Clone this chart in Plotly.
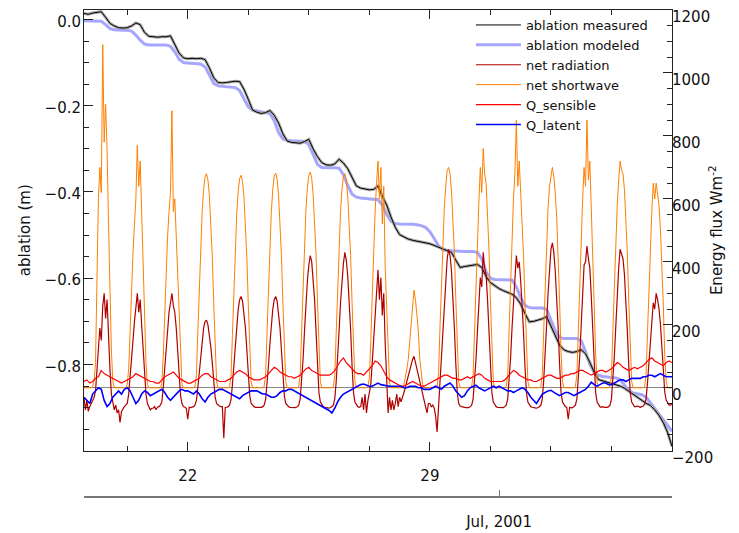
import pandas as pd
import plotly.graph_objects as go

# ---------------- time bases ----------------
t_hourly = pd.date_range('2001-06-19 00:00', periods=409, freq='h')
t_2h = pd.date_range('2001-06-19 00:00', periods=205, freq='2h')
t_3h = pd.date_range('2001-06-19 00:00', periods=137, freq='3h')

# ---------------- ablation (m), 3-hourly ----------------
ablation_measured = [
    0.014, 0.012, 0.015, 0.017, 0.018, 0.005, -0.009, -0.015,
    -0.019, -0.020, -0.019, -0.015, -0.008, -0.012, -0.030, -0.039,
    -0.040, -0.041, -0.040, -0.040, -0.038, -0.060, -0.078, -0.089,
    -0.091, -0.090, -0.091, -0.090, -0.093, -0.112, -0.135, -0.146,
    -0.147, -0.146, -0.145, -0.143, -0.144, -0.162, -0.185, -0.210,
    -0.215, -0.218, -0.216, -0.211, -0.222, -0.240, -0.265, -0.282,
    -0.285, -0.286, -0.287, -0.283, -0.278, -0.300, -0.318, -0.332,
    -0.337, -0.338, -0.335, -0.324, -0.333, -0.346, -0.368, -0.386,
    -0.391, -0.393, -0.395, -0.394, -0.386, -0.410, -0.430, -0.458,
    -0.482, -0.499, -0.505, -0.509, -0.512, -0.514, -0.516, -0.518,
    -0.520, -0.524, -0.528, -0.532, -0.536, -0.540, -0.558, -0.575,
    -0.573, -0.571, -0.570, -0.568, -0.575, -0.596, -0.610, -0.618,
    -0.624, -0.629, -0.633, -0.637, -0.645, -0.660, -0.682, -0.701,
    -0.700, -0.697, -0.694, -0.689, -0.712, -0.735, -0.755, -0.766,
    -0.770, -0.772, -0.770, -0.766, -0.775, -0.795, -0.818, -0.835,
    -0.838, -0.842, -0.845, -0.848, -0.850, -0.855, -0.862, -0.870,
    -0.878, -0.885, -0.890, -0.895, -0.905, -0.918, -0.935, -0.958,
    -0.990,
]

ablation_modeled = [
    -0.003, -0.003, -0.003, -0.003, -0.004, -0.012, -0.021, -0.024,
    -0.025, -0.025, -0.025, -0.027, -0.036, -0.048, -0.057, -0.059,
    -0.059, -0.059, -0.059, -0.059, -0.062, -0.075, -0.092, -0.100,
    -0.101, -0.102, -0.102, -0.103, -0.110, -0.128, -0.148, -0.154,
    -0.155, -0.156, -0.157, -0.158, -0.165, -0.185, -0.203, -0.210,
    -0.212, -0.214, -0.216, -0.218, -0.235, -0.262, -0.277, -0.280,
    -0.281, -0.282, -0.283, -0.283, -0.290, -0.315, -0.336, -0.343,
    -0.344, -0.344, -0.344, -0.345, -0.360, -0.385, -0.405, -0.412,
    -0.414, -0.415, -0.416, -0.416, -0.418, -0.430, -0.452, -0.468,
    -0.473, -0.474, -0.474, -0.475, -0.475, -0.476, -0.478, -0.482,
    -0.492, -0.508, -0.525, -0.534, -0.536, -0.537, -0.537, -0.538,
    -0.538, -0.538, -0.538, -0.540, -0.555, -0.585, -0.600, -0.603,
    -0.603, -0.603, -0.603, -0.604, -0.620, -0.645, -0.663, -0.668,
    -0.669, -0.669, -0.669, -0.672, -0.695, -0.722, -0.737, -0.740,
    -0.740, -0.740, -0.740, -0.745, -0.770, -0.800, -0.818, -0.825,
    -0.828, -0.829, -0.830, -0.831, -0.835, -0.848, -0.860, -0.866,
    -0.868, -0.870, -0.876, -0.888, -0.902, -0.915, -0.928, -0.942,
    -0.955,
]

# ---------------- energy fluxes (W m-2) ----------------
# hourly, one row per day (hours 0..23), plus the final midnight value
net_shortwave = [
    0, 0, 0, 0, 0, 0, 5, 20, 80, 350, 600, 700, 620, 1090, 780, 900, 760, 520, 300, 120, 20, 0, 0, 0,
    0, 0, 0, 0, 0, 0, 10, 60, 180, 320, 430, 520, 600, 770, 640, 720, 560, 400, 230, 80, 10, 0, 0, 0,
    0, 0, 0, 0, 0, 0, 15, 100, 230, 380, 480, 560, 620, 880, 560, 600, 480, 360, 210, 70, 10, 0, 0, 0,
    0, 0, 0, 0, 0, 5, 40, 180, 330, 460, 560, 630, 670, 680, 660, 610, 530, 420, 270, 110, 20, 0, 0, 0,
    0, 0, 0, 0, 0, 5, 35, 170, 320, 450, 555, 625, 665, 675, 655, 605, 525, 415, 265, 105, 18, 0, 0, 0,
    0, 0, 0, 0, 0, 5, 40, 175, 330, 460, 560, 630, 672, 682, 662, 612, 532, 420, 270, 110, 20, 0, 0, 0,
    0, 0, 0, 0, 0, 5, 40, 180, 335, 465, 565, 635, 675, 685, 665, 615, 535, 425, 275, 110, 20, 0, 0, 0,
    0, 0, 0, 0, 0, 5, 38, 175, 330, 460, 560, 630, 670, 680, 660, 610, 530, 420, 270, 108, 20, 0, 0, 0,
    0, 0, 0, 0, 0, 5, 30, 150, 300, 420, 560, 650, 720, 600, 700, 520, 640, 380, 250, 90, 15, 0, 0, 0,
    0, 0, 0, 0, 0, 0, 10, 30, 60, 90, 150, 200, 250, 310, 280, 230, 180, 90, 40, 10, 0, 0, 0, 0,
    0, 0, 0, 0, 0, 5, 45, 190, 340, 470, 570, 640, 690, 700, 680, 625, 540, 430, 280, 115, 20, 0, 0, 0,
    0, 0, 0, 0, 0, 5, 40, 180, 330, 470, 590, 700, 620, 760, 680, 650, 560, 440, 280, 110, 20, 0, 0, 0,
    0, 0, 0, 0, 0, 5, 40, 190, 350, 480, 600, 680, 850, 640, 720, 620, 540, 420, 270, 110, 20, 0, 0, 0,
    0, 0, 0, 0, 0, 5, 42, 185, 335, 465, 570, 640, 680, 700, 670, 620, 540, 430, 275, 112, 20, 0, 0, 0,
    0, 0, 0, 0, 0, 5, 40, 180, 340, 480, 600, 700, 640, 850, 660, 720, 560, 430, 280, 110, 20, 0, 0, 0,
    0, 0, 0, 0, 0, 5, 40, 185, 340, 470, 580, 660, 720, 690, 680, 630, 540, 430, 275, 110, 20, 0, 0, 0,
    0, 0, 0, 0, 0, 5, 40, 175, 320, 450, 560, 650, 600, 650, 620, 580, 500, 400, 260, 100, 20, 0, 0, 0,
    0,
]

net_radiation = [
    -30, -70, -40, -75, -60, -50, -45, -30, -10, 60, 120, 190, 150, 260, 300, 220, 280, 140, 60, -20, -50, -70, -55, -80,
    -70, -110, -75, -65, -60, -55, -50, -20, 30, 90, 150, 210, 250, 300, 240, 280, 200, 130, 40, -20, -50, -60, -70, -65,
    -65, -60, -70, -62, -60, -55, -45, 0, 60, 130, 190, 240, 270, 300, 260, 240, 190, 110, 30, -25, -50, -60, -62, -65,
    -100, -62, -63, -62, -60, -55, -40, 0, 50, 100, 150, 190, 210, 215, 200, 170, 130, 80, 20, -30, -50, -55, -58, -60,
    -60, -160, -63, -62, -60, -55, -38, 10, 70, 140, 200, 250, 280, 290, 275, 240, 190, 120, 40, -25, -50, -57, -60, -62,
    -62, -63, -64, -62, -60, -55, -38, 10, 70, 140, 200, 250, 280, 290, 275, 240, 190, 120, 40, -25, -50, -57, -60, -62,
    -62, -63, -64, -63, -60, -55, -35, 20, 90, 180, 270, 340, 390, 420, 400, 350, 280, 180, 70, -15, -45, -55, -60, -62,
    -62, -64, -65, -63, -60, -55, -35, 20, 90, 180, 270, 340, 395, 430, 405, 355, 285, 185, 70, -15, -45, -55, -60, -62,
    -60, -30, -70, -20, -80, -40, -20, 10, 80, 160, 250, 330, 375, 280, 350, 230, 300, 140, 40, -80, -30, -70, -40, -70,
    -50, -20, -60, -30, -45, -30, -20, 0, 20, 40, 60, 70, 90, 100, 80, 60, 40, 20, 0, -20, -40, -60, -80, -50,
    -50, -60, -55, -65, -90, -140, -60, 10, 100, 190, 280, 350, 410, 440, 420, 370, 290, 190, 75, -15, -50, -58, -60, -62,
    -62, -63, -64, -63, -60, -55, -35, 20, 90, 180, 270, 350, 320, 430, 380, 360, 280, 180, 70, -15, -45, -55, -60, -62,
    -62, -63, -64, -63, -60, -55, -35, 20, 95, 190, 280, 360, 420, 380, 400, 340, 270, 175, 65, -15, -45, -55, -60, -62,
    -62, -64, -65, -63, -60, -55, -35, 25, 100, 200, 300, 380, 440, 460, 430, 370, 290, 190, 75, -15, -45, -55, -60, -62,
    -100, -62, -64, -63, -60, -55, -35, 20, 100, 200, 300, 390, 400, 450, 410, 380, 290, 185, 70, -15, -45, -55, -60, -62,
    -60, -62, -63, -62, -60, -55, -35, 20, 100, 195, 300, 380, 440, 420, 410, 360, 280, 180, 70, -15, -45, -55, -60, -60,
    -58, -60, -62, -60, -58, -52, -35, 15, 80, 150, 220, 270, 250, 300, 280, 250, 200, 130, 50, -15, -40, -50, -55, -55,
    -50,
]

# 2-hourly, one row per day (hours 0,2,..,22), plus the final midnight value
q_sensible = [
    20, 25, 15, 20, 30, 35, 55, 45, 40, 35, 30, 25,
    20, 15, 20, 25, 30, 35, 45, 40, 35, 30, 25, 20,
    20, 15, 15, 25, 35, 40, 45, 50, 40, 30, 25, 20,
    15, 15, 20, 25, 30, 40, 45, 45, 35, 30, 25, 20,
    20, 20, 25, 30, 40, 50, 55, 50, 45, 35, 30, 25,
    25, 25, 30, 35, 45, 55, 65, 60, 50, 45, 40, 35,
    35, 30, 35, 40, 50, 60, 65, 55, 50, 45, 40, 40,
    40, 40, 45, 55, 70, 85, 95, 80, 70, 60, 50, 45,
    45, 40, 50, 60, 70, 85, 80, 70, 50, 35, 25, 20,
    15, 10, 5, 5, 10, 15, 20, 15, 10, 5, 5, 10,
    15, 20, 25, 30, 35, 40, 40, 35, 30, 30, 25, 25,
    30, 35, 30, 35, 40, 45, 40, 30, 25, 20, 20, 20,
    20, 20, 25, 35, 45, 55, 50, 40, 35, 30, 25, 25,
    20, 20, 25, 30, 35, 40, 40, 35, 30, 30, 35, 40,
    40, 45, 45, 50, 55, 55, 50, 45, 40, 45, 50, 55,
    55, 50, 55, 60, 70, 80, 75, 65, 60, 55, 60, 65,
    60, 65, 70, 80, 90, 95, 85, 80, 75, 70, 80, 85,
    80,
]

q_latent = [
    -30, -40, -50, -20, -10, 0, -5, -40, -60, -50, -30, -20,
    -10, -20, -5, 0, -10, -30, -50, -40, -20, -10, -15, -25,
    -20, -15, -10, -5, -15, -30, -40, -30, -20, -10, -5, -10,
    -10, -15, -20, -10, -20, -35, -45, -30, -20, -15, -10, -5,
    -5, -10, -15, -20, -25, -30, -35, -25, -20, -15, -10, -10,
    -10, -15, -20, -20, -25, -30, -30, -25, -15, -10, -10, -5,
    -5, -10, -15, -20, -25, -30, -35, -40, -45, -50, -55, -60,
    -65, -72, -80, -65, -45, -30, -20, -15, -10, -5, 0, 5,
    10, 12, 8, 5, 5, 10, 15, 10, 8, 5, 5, 5,
    5, 5, 5, 0, 0, 5, 5, 5, 0, 0, -5, -5,
    -5, 0, 5, 0, -5, 5, 10, 15, 5, -10, -20, -30,
    -25, -10, 0, 5, 8, 0, -5, -10, -5, 0, 5, 0,
    5, 0, -5, -10, -10, -15, -10, -5, 0, -5, -15, -30,
    -40, -50, -35, -20, -15, -10, -8, -15, -20, -25, -20, -15,
    -15, -20, -25, -20, -15, -10, -5, 5, 18, 10, 5, 10,
    15, 15, 10, 10, 15, 20, 25, 25, 20, 25, 30, 30,
    30, 30, 35, 35, 40, 40, 35, 40, 45, 40, 35, 35,
    35,
]

# ---------------- axis ticks ----------------
x_range = ['2001-06-19 00:00', '2001-07-06 00:00']
x_tick_vals = ['2001-06-22', '2001-06-29']
x_tick_text = ['22', '29']
month_tick_vals = ['2001-07-01']
month_tick_text = ['Jul, 2001']
abl_tick_vals = [-0.8, -0.6, -0.4, -0.2, 0.0]
flux_tick_vals = [-200, 0, 200, 400, 600, 800, 1000, 1200]

FONT = 'DejaVu Sans'
AX = '#222222'

fig = go.Figure()

# energy fluxes (right axis)
fig.add_trace(go.Scatter(x=t_hourly, y=net_shortwave, mode='lines', name='net shortwave',
                         line=dict(color='#ff7f00', width=1), yaxis='y2', legendrank=4))
fig.add_trace(go.Scatter(x=t_hourly, y=net_radiation, mode='lines', name='net radiation',
                         line=dict(color='#b00000', width=1.2), yaxis='y2', legendrank=3))
fig.add_trace(go.Scatter(x=t_2h, y=q_sensible, mode='lines', name='Q_sensible',
                         line=dict(color='#ff0000', width=1.2), yaxis='y2', legendrank=5))
fig.add_trace(go.Scatter(x=t_2h, y=q_latent, mode='lines', name='Q_latent',
                         line=dict(color='#0000ff', width=1.6), yaxis='y2', legendrank=6))

# ablation (left axis)
fig.add_trace(go.Scatter(x=t_3h, y=ablation_modeled, mode='lines', name='ablation modeled',
                         line=dict(color='#a6a6ff', width=3), yaxis='y', legendrank=2))
fig.add_trace(go.Scatter(x=t_3h, y=ablation_measured, mode='lines', showlegend=False,
                         line=dict(color='#a8a8a8', width=3), yaxis='y', hoverinfo='skip'))
fig.add_trace(go.Scatter(x=t_3h, y=ablation_measured, mode='lines', name='ablation measured',
                         line=dict(color='#000000', width=1), yaxis='y', legendrank=1))

# carrier for the month axis
fig.add_trace(go.Scatter(x=[t_3h[0], t_3h[-1]], y=[None, None], mode='lines', showlegend=False,
                         xaxis='x2', yaxis='y', hoverinfo='skip'))

fig.update_layout(
    width=731, height=525,
    margin=dict(l=76, r=67, t=2, b=36),
    paper_bgcolor='white', plot_bgcolor='white',
    font=dict(family=FONT, size=15, color='#111111'),
    showlegend=True,
    legend=dict(x=0.658, y=1.0, xanchor='left', yanchor='top',
                bgcolor='rgba(0,0,0,0)', borderwidth=0,
                font=dict(size=13, family=FONT), itemwidth=45, tracegroupgap=0),
    xaxis=dict(type='date', range=x_range, anchor='y', domain=[0, 1], automargin=False,
               tickmode='array', tickvals=x_tick_vals, ticktext=x_tick_text,
               ticks='inside', ticklen=9, tickwidth=1, tickcolor=AX,
               showline=True, linecolor=AX, linewidth=1, mirror='ticks',
               showgrid=False, zeroline=False, ticklabelstandoff=11,
               minor=dict(tick0='2001-06-20 06:00', dtick=151200000, ticks='inside',
                          ticklen=5, tickcolor=AX, showgrid=False)),
    xaxis2=dict(type='date', range=x_range, overlaying='x', anchor='free', position=0,
                side='bottom', automargin=False, tickmode='array', tickvals=month_tick_vals,
                ticktext=month_tick_text, ticks='inside', ticklen=6, tickcolor='#777777',
                showline=True, linecolor='#777777', linewidth=1.5,
                showgrid=False, zeroline=False, ticklabelstandoff=11),
    yaxis=dict(range=[-1.0, 0.022], domain=[0.095, 1], anchor='x', automargin=False,
               tickmode='array', tickvals=abl_tick_vals, tickformat='.1f',
               ticks='inside', ticklen=9, tickcolor=AX,
               showline=True, linecolor=AX, linewidth=1,
               showgrid=False, zeroline=False, ticklabelshift=2, ticklabelstandoff=-1,
               ticklabeloverflow='allow',
               minor=dict(tick0=0, dtick=0.05, ticks='inside', ticklen=5,
                          tickcolor=AX, showgrid=False)),
    yaxis2=dict(range=[-200, 1200], overlaying='y', side='right', anchor='x', automargin=False,
                tickmode='array', tickvals=flux_tick_vals,
                ticks='inside', ticklen=9, tickcolor=AX,
                showline=True, linecolor=AX, linewidth=1,
                showgrid=False, zeroline=True, zerolinecolor='#888888', zerolinewidth=1,
                ticklabelshift=7, ticklabelstandoff=-4, ticklabeloverflow='allow',
                minor=dict(tick0=0, dtick=50, ticks='inside', ticklen=5,
                           tickcolor=AX, showgrid=False)),
    annotations=[
        dict(text='ablation (m)', xref='paper', yref='paper', x=-0.1003, y=0.548,
             textangle=-90, showarrow=False, font=dict(size=15, family=FONT),
             xanchor='center', yanchor='middle'),
        dict(text='Energy flux Wm<sup>-2</sup>', xref='paper', yref='paper', x=1.0748, y=0.548,
             textangle=-90, showarrow=False, font=dict(size=15, family=FONT),
             xanchor='center', yanchor='middle'),
    ],
)

fig.write_html('out.html')
